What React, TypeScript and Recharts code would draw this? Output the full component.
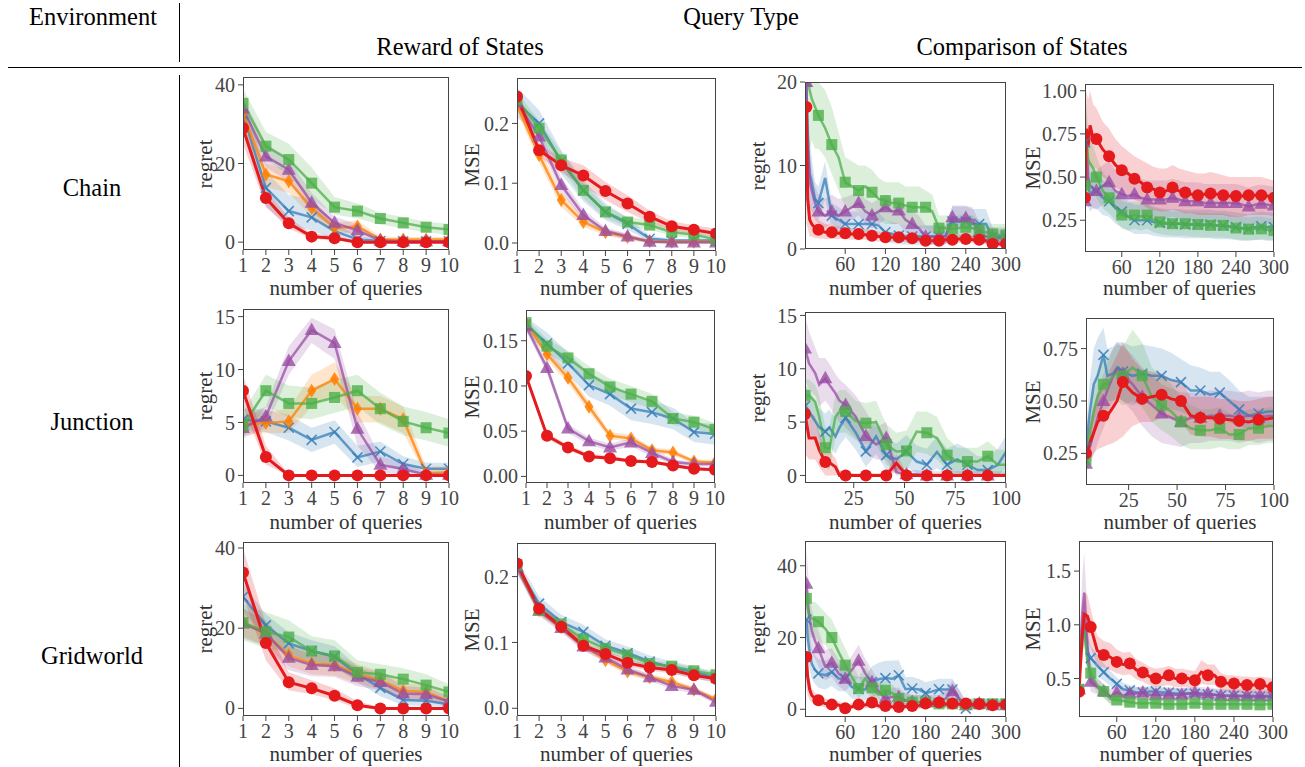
import React from "react";
import { ComposedChart, Line, Area, XAxis, YAxis } from "recharts";

// each point is [mean, low, high]
type B = [number, number, number];

const FONT = '"Liberation Serif", "Times New Roman", serif';
const INK = "#444";

const COLOR: Record<string, string> = {
  red: "#e41a1c",
  blue: "#377eb8",
  green: "#4daf4a",
  purple: "#984ea3",
  orange: "#ff7f00",
};
const DRAW_ORDER = ["blue", "orange", "purple", "green", "red"];

// x positions
const xs10 = [1, 2, 3, 4, 5, 6, 7, 8, 9, 10];
const xs300 = [2, 4, 7, 10, 15, 20, 30, 40, 50, 60, 70, 80, 90, 100, 110, 120, 130, 140, 150, 160, 170, 180, 190, 200, 210, 220, 230, 240, 250, 260, 270, 280, 290, 300];
const xsJuncReg = [1, 3, 6, 8, 11, 13, 16, 18, 21, 26, 31, 36, 41, 46, 51, 56, 61, 66, 71, 76, 81, 86, 91, 96, 100];
const xsJuncMse = [3, 5, 7, 9, 12, 14, 17, 19, 22, 27, 32, 37, 42, 47, 52, 57, 62, 67, 72, 77, 82, 87, 92, 97, 100];

const ticks10 = [1, 2, 3, 4, 5, 6, 7, 8, 9, 10];
const ticks300 = [60, 120, 180, 240, 300];
const ticks100 = [25, 50, 75, 100];

// ---------- Chain, reward of states ----------
const chainRewRegRed: B[] = [[29, 25, 33], [11.2, 9, 13.5], [4.8, 3.5, 6.2], [1.4, 0.8, 2.2], [1, 0.5, 1.6], [0, 0, 0.3], [0, 0, 0.2], [0, 0, 0.2], [0, 0, 0.2], [0, 0, 0.2]];
const chainRewRegGreen: B[] = [[35.3, 32, 39], [24.4, 21, 28], [21, 17, 25], [15, 11, 19], [8.9, 7, 11.5], [7.9, 6, 9.8], [6, 4.5, 7.5], [4.9, 3.5, 6.4], [3.8, 2.5, 5.2], [3.2, 1.8, 4.7]];
const chainRewRegPurple: B[] = [[34, 31, 37], [21.8, 19, 25], [18.4, 15.5, 21], [10, 7.5, 12.5], [4.9, 3.5, 6.5], [3, 1.5, 4.5], [0.4, 0, 1], [0.2, 0, 0.6], [0.2, 0, 0.5], [0.2, 0, 0.5]];
const chainRewRegOrange: B[] = [[32.8, 30, 36], [17.2, 14, 20], [15.5, 12.5, 18.5], [8.7, 6.5, 11], [3.6, 2.2, 5], [4, 2.5, 5.5], [0.7, 0.2, 1.5], [0.7, 0.2, 1.3], [0.7, 0.2, 1.3], [0.7, 0.2, 1.3]];
const chainRewRegBlue: B[] = [[32.5, 28, 37], [13.8, 9, 18], [7.9, 4, 12], [6.3, 3, 11], [2.8, 0.5, 5], [0.7, 0, 1.5], [0.3, 0, 0.8], [0.2, 0, 0.5], [0.2, 0, 0.5], [0.2, 0, 0.5]];

const chainRewMseRed: B[] = [[0.245, 0.235, 0.256], [0.155, 0.145, 0.165], [0.13, 0.118, 0.142], [0.113, 0.095, 0.13], [0.087, 0.072, 0.102], [0.066, 0.052, 0.08], [0.044, 0.034, 0.054], [0.028, 0.02, 0.036], [0.022, 0.015, 0.03], [0.016, 0.01, 0.024]];
const chainRewMseGreen: B[] = [[0.24, 0.228, 0.252], [0.192, 0.18, 0.205], [0.139, 0.125, 0.152], [0.088, 0.075, 0.1], [0.052, 0.042, 0.062], [0.035, 0.027, 0.044], [0.03, 0.022, 0.038], [0.018, 0.012, 0.025], [0.014, 0.008, 0.02], [0.006, 0.002, 0.011]];
const chainRewMseBlue: B[] = [[0.235, 0.21, 0.26], [0.2, 0.18, 0.222], [0.136, 0.115, 0.155], [0.088, 0.07, 0.105], [0.052, 0.038, 0.066], [0.032, 0.022, 0.042], [0.007, 0.002, 0.012], [0.004, 0.001, 0.007], [0.004, 0.001, 0.007], [0.004, 0.001, 0.007]];
const chainRewMsePurple: B[] = [[0.235, 0.225, 0.245], [0.178, 0.165, 0.19], [0.097, 0.085, 0.11], [0.047, 0.038, 0.056], [0.02, 0.014, 0.026], [0.011, 0.006, 0.016], [0.002, 0, 0.005], [0.001, 0, 0.003], [0.001, 0, 0.003], [0.001, 0, 0.003]];
const chainRewMseOrange: B[] = [[0.23, 0.22, 0.242], [0.147, 0.135, 0.16], [0.072, 0.06, 0.085], [0.035, 0.027, 0.044], [0.018, 0.012, 0.024], [0.01, 0.005, 0.015], [0.003, 0, 0.006], [0.002, 0, 0.005], [0.002, 0, 0.005], [0.002, 0, 0.005]];

// ---------- Chain, comparison of states ----------
const chainCmpRegRed: B[] = [[17, 3, 20], [6, 2.5, 9], [3.5, 1.5, 6], [3, 1.5, 5], [2.5, 1.3, 4], [2.3, 1.3, 3.5], [2, 1.2, 3], [2, 1.2, 2.9], [1.9, 1.2, 2.7], [1.9, 1.2, 2.6], [1.8, 1.1, 2.5], [1.8, 1.1, 2.5], [1.7, 1.1, 2.4], [1.6, 1, 2.3], [1.5, 0.9, 2.1], [1.4, 0.9, 2], [1.4, 0.9, 2], [1.4, 0.9, 1.9], [1.3, 0.8, 1.8], [1.3, 0.8, 1.8], [1.2, 0.8, 1.7], [1, 0.6, 1.5], [1, 0.6, 1.5], [1, 0.6, 1.5], [1.1, 0.7, 1.6], [1.1, 0.7, 1.6], [1.2, 0.7, 1.7], [1.2, 0.8, 1.7], [1.1, 0.7, 1.6], [1.1, 0.7, 1.6], [1, 0.6, 1.5], [0.6, 0.3, 1], [0.6, 0.3, 1], [0.6, 0.3, 1]];
const chainCmpRegGreen: B[] = [[22, 14, 26], [20, 13, 25], [19, 12, 24], [18, 13, 22], [17, 12, 21], [16, 12, 20], [14.5, 11, 19], [12.5, 9, 17], [11, 7, 14], [8, 5, 11], [7.5, 5, 10.5], [7, 4.5, 10], [7.5, 4.5, 10], [6.8, 4, 9.5], [6, 3.5, 8.5], [5.8, 3, 8], [5.5, 3, 8], [5.5, 3, 8], [5.2, 2.8, 7.5], [5, 2.5, 7.5], [5, 2.5, 7.5], [5, 2.5, 7], [4.5, 2, 6.5], [2.5, 1, 4], [2.5, 1, 4], [2.4, 1, 4], [2.5, 1, 4], [2.6, 1, 4.2], [2.5, 1, 4], [2.3, 0.8, 3.5], [2, 0.7, 3.2], [1.8, 0.5, 3], [1.7, 0.5, 3], [1.7, 0.5, 3]];
const chainCmpRegBlue: B[] = [[20, 12, 24], [14, 9, 19], [9, 6, 13], [8, 5, 11], [6, 4, 8], [5.5, 3.5, 7.5], [8.5, 6, 10.5], [4, 2.5, 5.5], [3.5, 2, 5], [3, 1.5, 4.5], [3, 1.5, 4.5], [3, 1.5, 4.5], [3, 1.5, 4.5], [3, 1.5, 4.5], [2.8, 1.3, 4.3], [2, 0.8, 3.5], [1.8, 0.7, 3.2], [1.6, 0.6, 3], [1.5, 0.5, 2.8], [1.5, 0.5, 2.8], [1.5, 0.5, 2.8], [1.5, 0.5, 2.8], [1.5, 0.5, 2.8], [1.5, 0.5, 2.8], [1.6, 0.6, 2.9], [3.3, 1.3, 5.1], [3.3, 1.3, 5.1], [3.3, 1.3, 5.1], [3, 1.3, 4.8], [3, 1.3, 4.8], [3, 1.3, 4.8], [1.5, 0.5, 2.6], [1.5, 0.5, 2.6], [1.5, 0.5, 2.6]];
const chainCmpRegPurple: B[] = [[20, 14, 24], [12, 8, 17], [8, 5, 11], [7, 4.5, 9.5], [5.5, 3.5, 7.5], [4.5, 3, 6.5], [4, 2.5, 6], [4.5, 3, 6.5], [4, 2.5, 6], [4.5, 3, 6.2], [5, 3.5, 6.5], [5.5, 4, 7], [4.5, 3, 6], [4, 2.5, 5.5], [4.5, 3, 6], [5, 3.5, 6.5], [4.5, 3, 6], [4.6, 3, 6], [3.5, 2, 5], [3, 1.5, 4.5], [2.5, 1.2, 4], [1.5, 0.5, 2.8], [1.5, 0.5, 2.8], [1.5, 0.5, 2.8], [1.5, 0.5, 2.8], [3.8, 2.5, 5.2], [3.5, 2.5, 5.2], [3.7, 2.5, 5.2], [3.5, 2.3, 5], [2, 1, 3.2], [1.5, 0.6, 2.6], [1.5, 0.6, 2.6], [1.3, 0.5, 2.3], [1.2, 0.4, 2.2]];

const chainCmpMseRed: B[] = [[0.38, 0.3, 0.46], [0.78, 0.55, 1.0], [0.68, 0.5, 0.95], [0.8, 0.58, 1.0], [0.72, 0.55, 0.92], [0.72, 0.55, 0.9], [0.66, 0.5, 0.82], [0.62, 0.48, 0.78], [0.57, 0.44, 0.72], [0.54, 0.42, 0.68], [0.52, 0.4, 0.65], [0.49, 0.37, 0.62], [0.47, 0.35, 0.6], [0.44, 0.32, 0.58], [0.43, 0.31, 0.56], [0.41, 0.3, 0.55], [0.42, 0.3, 0.55], [0.44, 0.31, 0.57], [0.42, 0.3, 0.55], [0.41, 0.29, 0.54], [0.4, 0.29, 0.53], [0.395, 0.28, 0.52], [0.4, 0.28, 0.52], [0.405, 0.28, 0.53], [0.4, 0.28, 0.52], [0.395, 0.28, 0.51], [0.39, 0.27, 0.5], [0.39, 0.27, 0.5], [0.39, 0.27, 0.5], [0.395, 0.28, 0.5], [0.395, 0.28, 0.5], [0.395, 0.28, 0.5], [0.39, 0.28, 0.49], [0.38, 0.27, 0.48]];
const chainCmpMseGreen: B[] = [[0.45, 0.35, 0.55], [0.78, 0.6, 0.95], [0.6, 0.45, 0.75], [0.58, 0.45, 0.72], [0.55, 0.42, 0.68], [0.5, 0.38, 0.62], [0.42, 0.32, 0.53], [0.38, 0.29, 0.48], [0.33, 0.25, 0.42], [0.28, 0.2, 0.36], [0.27, 0.19, 0.35], [0.28, 0.2, 0.36], [0.27, 0.19, 0.35], [0.28, 0.2, 0.35], [0.25, 0.18, 0.32], [0.24, 0.17, 0.31], [0.235, 0.165, 0.305], [0.23, 0.16, 0.3], [0.23, 0.16, 0.3], [0.23, 0.16, 0.3], [0.225, 0.155, 0.295], [0.225, 0.155, 0.295], [0.22, 0.15, 0.29], [0.22, 0.15, 0.29], [0.22, 0.15, 0.29], [0.22, 0.15, 0.29], [0.21, 0.145, 0.28], [0.205, 0.14, 0.275], [0.2, 0.135, 0.27], [0.198, 0.135, 0.265], [0.2, 0.135, 0.27], [0.2, 0.135, 0.27], [0.195, 0.13, 0.265], [0.19, 0.13, 0.26]];
const chainCmpMseBlue: B[] = [[0.7, 0.5, 0.95], [0.55, 0.4, 0.75], [0.45, 0.33, 0.6], [0.4, 0.3, 0.52], [0.42, 0.32, 0.53], [0.42, 0.32, 0.53], [0.38, 0.28, 0.48], [0.36, 0.27, 0.46], [0.32, 0.23, 0.42], [0.3, 0.21, 0.39], [0.27, 0.19, 0.36], [0.25, 0.17, 0.34], [0.25, 0.17, 0.34], [0.25, 0.17, 0.34], [0.24, 0.16, 0.33], [0.235, 0.155, 0.32], [0.23, 0.15, 0.315], [0.23, 0.15, 0.315], [0.23, 0.15, 0.315], [0.225, 0.145, 0.31], [0.225, 0.145, 0.31], [0.225, 0.145, 0.31], [0.225, 0.145, 0.31], [0.225, 0.145, 0.31], [0.22, 0.14, 0.305], [0.22, 0.14, 0.305], [0.215, 0.14, 0.3], [0.21, 0.135, 0.295], [0.205, 0.13, 0.29], [0.2, 0.13, 0.285], [0.21, 0.135, 0.295], [0.215, 0.14, 0.3], [0.21, 0.135, 0.295], [0.21, 0.135, 0.295]];
const chainCmpMsePurple: B[] = [[0.36, 0.3, 0.45], [0.7, 0.5, 0.9], [0.5, 0.38, 0.65], [0.45, 0.34, 0.58], [0.43, 0.32, 0.55], [0.42, 0.31, 0.54], [0.45, 0.34, 0.57], [0.47, 0.36, 0.59], [0.42, 0.31, 0.54], [0.4, 0.29, 0.52], [0.39, 0.28, 0.51], [0.4, 0.29, 0.51], [0.38, 0.27, 0.49], [0.37, 0.26, 0.48], [0.37, 0.26, 0.48], [0.37, 0.26, 0.48], [0.37, 0.26, 0.48], [0.38, 0.27, 0.49], [0.37, 0.26, 0.48], [0.36, 0.25, 0.47], [0.36, 0.25, 0.47], [0.36, 0.25, 0.47], [0.35, 0.24, 0.46], [0.35, 0.24, 0.46], [0.35, 0.24, 0.46], [0.35, 0.24, 0.46], [0.35, 0.24, 0.46], [0.35, 0.24, 0.46], [0.34, 0.23, 0.45], [0.33, 0.22, 0.44], [0.34, 0.23, 0.45], [0.345, 0.235, 0.455], [0.34, 0.23, 0.45], [0.335, 0.225, 0.445]];

// ---------- Junction, reward of states ----------
const juncRewRegRed: B[] = [[8, 6.5, 9.5], [1.73, 1, 2.8], [0, 0, 0.1], [0, 0, 0.1], [0, 0, 0.1], [0, 0, 0.1], [0, 0, 0.1], [0, 0, 0.1], [0, 0, 0.1], [0, 0, 0.1]];
const juncRewRegGreen: B[] = [[4.7, 3.5, 6], [8, 6.5, 9.5], [6.8, 5.5, 8.5], [6.8, 5.3, 8.3], [7.36, 5.9, 9], [8, 6.5, 9.5], [6.3, 4.8, 7.8], [5.1, 3.8, 6.5], [4.5, 3.3, 6], [4, 2.7, 5.3]];
const juncRewRegPurple: B[] = [[4.47, 3.5, 5.5], [5.57, 4.5, 6.5], [10.8, 9.5, 12.2], [13.74, 12.5, 14.9], [12.5, 11, 13.8], [4.4, 2.8, 6], [1, 0.3, 1.8], [0.6, 0, 1.2], [0.06, 0, 0.3], [0.06, 0, 0.3]];
const juncRewRegOrange: B[] = [[4.8, 3.8, 5.8], [4.94, 4, 6], [5.1, 4, 6.3], [8, 6.5, 9.5], [9.1, 7.7, 10.7], [6.3, 5, 7.5], [6.3, 5, 7.5], [5.3, 4, 6.5], [0.2, 0, 0.8], [0.3, 0, 0.9]];
const juncRewRegBlue: B[] = [[5.25, 4.2, 6.3], [5.1, 4.1, 6.2], [4.5, 3.3, 5.7], [3.36, 2.2, 4.5], [4.1, 3, 5.2], [1.7, 0.8, 2.8], [2.26, 1.3, 3.2], [1.07, 0.4, 1.8], [0.63, 0.1, 1.2], [0.63, 0.1, 1.2]];

const juncRewMseRed: B[] = [[0.111, 0.107, 0.115], [0.045, 0.042, 0.048], [0.032, 0.029, 0.035], [0.022, 0.02, 0.025], [0.02, 0.018, 0.023], [0.017, 0.015, 0.019], [0.016, 0.014, 0.018], [0.012, 0.01, 0.014], [0.0085, 0.007, 0.01], [0.0074, 0.006, 0.009]];
const juncRewMseGreen: B[] = [[0.17, 0.165, 0.175], [0.144, 0.136, 0.152], [0.131, 0.123, 0.139], [0.1135, 0.105, 0.122], [0.099, 0.09, 0.108], [0.091, 0.082, 0.1], [0.083, 0.075, 0.091], [0.064, 0.057, 0.071], [0.06, 0.053, 0.067], [0.052, 0.045, 0.059]];
const juncRewMseBlue: B[] = [[0.168, 0.16, 0.176], [0.147, 0.135, 0.159], [0.125, 0.113, 0.137], [0.101, 0.088, 0.114], [0.091, 0.078, 0.104], [0.075, 0.062, 0.088], [0.071, 0.058, 0.084], [0.064, 0.052, 0.076], [0.049, 0.038, 0.06], [0.047, 0.035, 0.058]];
const juncRewMsePurple: B[] = [[0.166, 0.161, 0.171], [0.12, 0.114, 0.126], [0.053, 0.048, 0.058], [0.039, 0.035, 0.043], [0.032, 0.028, 0.036], [0.0376, 0.033, 0.042], [0.026, 0.022, 0.03], [0.016, 0.013, 0.019], [0.0136, 0.011, 0.016], [0.0136, 0.011, 0.016]];
const juncRewMseOrange: B[] = [[0.17, 0.165, 0.175], [0.135, 0.129, 0.141], [0.109, 0.103, 0.115], [0.077, 0.071, 0.083], [0.045, 0.041, 0.049], [0.042, 0.038, 0.046], [0.029, 0.026, 0.032], [0.0265, 0.023, 0.03], [0.0166, 0.014, 0.019], [0.0155, 0.013, 0.018]];

// ---------- Junction, comparison of states ----------
const juncCmpRegRed: B[] = [[5.75, 2, 9], [3.5, 1.5, 6], [3.5, 1.5, 5.5], [2.4, 0.8, 4], [1.25, 0, 2.5], [1.2, 0, 2.3], [0.8, 0, 1.6], [0, 0, 0.5], [0, 0, 0.3], [0, 0, 0.2], [0, 0, 0.2], [0, 0, 0.2], [0, 0, 0.2], [1.15, 0.3, 2], [0, 0, 0.2], [0, 0, 0.2], [0, 0, 0.2], [0, 0, 0.2], [0, 0, 0.2], [0, 0, 0.2], [0, 0, 0.2], [0, 0, 0.2], [0, 0, 0.2], [0, 0, 0.2], [0, 0, 0.2]];
const juncCmpRegPurple: B[] = [[11.9, 9, 15], [10.5, 8, 13.5], [9.6, 7.5, 12], [8.5, 6.5, 11], [9.1, 7, 11], [8.5, 6.5, 10.5], [7.7, 5.5, 9.5], [7, 5, 9], [6.6, 4.5, 8.5], [5.5, 3.5, 7.5], [3.7, 2, 6], [2.9, 1.5, 4.5], [3.5, 1.5, 5], [0.3, 0, 1], [0.1, 0, 0.5], [0.1, 0, 0.5], [0, 0, 0.4], [0, 0, 0.4], [0, 0, 0.4], [0, 0, 0.4], [0, 0, 0.4], [0, 0, 0.4], [0, 0, 0.4], [0, 0, 0.4], [0, 0, 0.4]];
const juncCmpRegGreen: B[] = [[7.5, 6, 9], [7.5, 5.5, 9], [6.9, 5, 8.5], [5.5, 3.5, 7.5], [2.6, 0.8, 4.5], [2.5, 0.5, 4.5], [5.5, 3.5, 7.5], [6, 4, 8], [6, 4, 8], [5.1, 3.3, 7], [4.9, 3, 6.8], [5, 3, 7], [2.9, 1, 4.8], [2.25, 0.5, 4], [2.3, 0.5, 4.2], [4.1, 2.2, 6], [4, 2, 6], [3.5, 1.5, 5.5], [1.9, 0.5, 3.5], [1.3, 0.2, 2.6], [1.3, 0.2, 2.6], [1.3, 0.2, 2.6], [1.8, 0.5, 3.2], [1, 0, 2.4], [1, 0, 2.4]];
const juncCmpRegBlue: B[] = [[6.5, 4.5, 8.5], [6, 4, 8], [5.1, 3.3, 7], [4.5, 2.8, 6.3], [4.1, 2.5, 5.8], [4.5, 2.8, 6.2], [3.65, 2, 5.3], [4.5, 2.8, 6.2], [5.4, 3.6, 7.2], [4, 2.4, 5.6], [2.25, 0.8, 3.8], [3.65, 2, 5.3], [1.9, 0.5, 3.4], [1.5, 0.3, 3], [2.25, 0.8, 3.8], [1.3, 0.2, 2.8], [1, 0, 2.5], [2.2, 0.7, 3.7], [1, 0, 2.5], [1.5, 0.2, 3], [1, 0, 2.5], [0.5, 0, 1.8], [0.5, 0, 1.8], [1, 0, 2.5], [2.2, 0.7, 3.7]];

const juncCmpMseRed: B[] = [[0.25, 0.2, 0.3], [0.3, 0.22, 0.4], [0.35, 0.25, 0.48], [0.4, 0.27, 0.54], [0.43, 0.28, 0.6], [0.43, 0.29, 0.62], [0.47, 0.3, 0.68], [0.5, 0.31, 0.72], [0.59, 0.33, 0.78], [0.54, 0.38, 0.7], [0.51, 0.4, 0.65], [0.52, 0.4, 0.64], [0.53, 0.42, 0.63], [0.51, 0.42, 0.6], [0.5, 0.4, 0.6], [0.43, 0.34, 0.52], [0.42, 0.33, 0.52], [0.42, 0.33, 0.52], [0.415, 0.32, 0.51], [0.41, 0.32, 0.51], [0.405, 0.31, 0.5], [0.4, 0.31, 0.5], [0.41, 0.32, 0.51], [0.415, 0.32, 0.52], [0.42, 0.32, 0.52]];
const juncCmpMseBlue: B[] = [[0.28, 0.2, 0.36], [0.45, 0.3, 0.6], [0.58, 0.4, 0.75], [0.62, 0.45, 0.8], [0.72, 0.55, 0.85], [0.62, 0.5, 0.75], [0.63, 0.5, 0.76], [0.66, 0.52, 0.78], [0.64, 0.5, 0.78], [0.62, 0.48, 0.76], [0.63, 0.5, 0.77], [0.62, 0.48, 0.76], [0.62, 0.47, 0.75], [0.6, 0.46, 0.73], [0.59, 0.45, 0.7], [0.55, 0.43, 0.67], [0.55, 0.43, 0.66], [0.53, 0.42, 0.64], [0.54, 0.43, 0.64], [0.5, 0.4, 0.6], [0.46, 0.38, 0.55], [0.43, 0.36, 0.52], [0.44, 0.37, 0.52], [0.45, 0.38, 0.52], [0.45, 0.38, 0.52]];
const juncCmpMseGreen: B[] = [[0.22, 0.15, 0.3], [0.35, 0.25, 0.45], [0.45, 0.33, 0.57], [0.52, 0.4, 0.64], [0.58, 0.46, 0.7], [0.58, 0.46, 0.7], [0.62, 0.5, 0.75], [0.63, 0.5, 0.77], [0.62, 0.48, 0.76], [0.66, 0.5, 0.84], [0.62, 0.47, 0.78], [0.52, 0.4, 0.66], [0.48, 0.36, 0.62], [0.45, 0.33, 0.58], [0.4, 0.29, 0.52], [0.37, 0.27, 0.48], [0.36, 0.27, 0.46], [0.36, 0.27, 0.46], [0.37, 0.28, 0.47], [0.34, 0.27, 0.44], [0.34, 0.27, 0.44], [0.37, 0.29, 0.46], [0.37, 0.29, 0.46], [0.38, 0.3, 0.47], [0.38, 0.3, 0.47]];
const juncCmpMsePurple: B[] = [[0.2, 0.16, 0.26], [0.28, 0.2, 0.38], [0.35, 0.24, 0.47], [0.42, 0.3, 0.55], [0.5, 0.37, 0.63], [0.55, 0.42, 0.68], [0.62, 0.48, 0.75], [0.65, 0.52, 0.78], [0.63, 0.5, 0.76], [0.58, 0.45, 0.72], [0.52, 0.38, 0.66], [0.48, 0.33, 0.62], [0.44, 0.3, 0.58], [0.42, 0.29, 0.56], [0.4, 0.28, 0.54], [0.42, 0.3, 0.54], [0.42, 0.3, 0.54], [0.43, 0.31, 0.55], [0.43, 0.31, 0.55], [0.43, 0.31, 0.55], [0.42, 0.3, 0.54], [0.43, 0.31, 0.55], [0.42, 0.3, 0.54], [0.43, 0.31, 0.55], [0.43, 0.31, 0.55]];

// ---------- Gridworld, reward of states ----------
const gridRewRegRed: B[] = [[33.9, 28, 40], [16.3, 12, 21], [6.5, 4.5, 9], [5, 3.5, 7], [3.15, 2, 5], [0.8, 0, 1.8], [0, 0, 0.3], [0, 0, 0.2], [0, 0, 0.2], [0, 0, 0.2]];
const gridRewRegGreen: B[] = [[21.4, 17, 26], [19.1, 15, 24], [17.8, 14, 22], [14.3, 11, 18], [13.1, 10, 17], [9, 7, 12], [8.5, 6.5, 11], [7.3, 5, 10], [5.8, 3.8, 8.5], [4.1, 2.5, 6]];
const gridRewRegBlue: B[] = [[27.8, 24, 31], [20.7, 18, 23.5], [16.2, 13.5, 19], [14.3, 11.8, 17], [12.9, 10.5, 15.5], [8.5, 6.5, 10.5], [5.1, 3, 7.2], [2.1, 0.8, 3.5], [1.9, 0.6, 3.2], [1, 0.2, 2]];
const gridRewRegPurple: B[] = [[21.2, 17.5, 25], [18.7, 15.5, 22], [12.6, 9.5, 15.5], [10.8, 8, 13.5], [10.5, 7.8, 13.2], [7.9, 5.5, 10.3], [6.6, 4.5, 9], [3.7, 2, 5.5], [3.5, 1.8, 5.2], [1.7, 0.5, 3]];
const gridRewRegOrange: B[] = [[21.5, 18, 25], [18.5, 15.5, 21.5], [13.3, 10.5, 16], [11.2, 8.5, 14], [10.8, 8.2, 13.5], [8.6, 6.2, 11], [7, 4.8, 9.2], [4.4, 2.5, 6.3], [4, 2.2, 5.8], [1.8, 0.6, 3.2]];

const gridRewMseRed: B[] = [[0.22, 0.213, 0.227], [0.151, 0.145, 0.157], [0.124, 0.118, 0.13], [0.095, 0.089, 0.101], [0.0825, 0.077, 0.088], [0.069, 0.064, 0.074], [0.062, 0.057, 0.067], [0.058, 0.053, 0.063], [0.05, 0.045, 0.055], [0.045, 0.04, 0.05]];
const gridRewMseGreen: B[] = [[0.218, 0.21, 0.226], [0.149, 0.142, 0.156], [0.128, 0.121, 0.135], [0.105, 0.098, 0.112], [0.091, 0.085, 0.097], [0.081, 0.075, 0.087], [0.068, 0.063, 0.073], [0.064, 0.059, 0.069], [0.057, 0.052, 0.062], [0.051, 0.046, 0.056]];
const gridRewMseBlue: B[] = [[0.216, 0.205, 0.227], [0.159, 0.148, 0.17], [0.131, 0.12, 0.142], [0.116, 0.105, 0.127], [0.095, 0.085, 0.105], [0.084, 0.074, 0.094], [0.071, 0.062, 0.08], [0.062, 0.053, 0.071], [0.055, 0.046, 0.064], [0.046, 0.038, 0.054]];
const gridRewMsePurple: B[] = [[0.214, 0.205, 0.223], [0.148, 0.14, 0.156], [0.122, 0.115, 0.129], [0.094, 0.087, 0.101], [0.077, 0.071, 0.083], [0.059, 0.053, 0.065], [0.047, 0.042, 0.052], [0.034, 0.029, 0.039], [0.028, 0.023, 0.033], [0.01, 0.006, 0.014]];
const gridRewMseOrange: B[] = [[0.215, 0.207, 0.223], [0.149, 0.142, 0.156], [0.123, 0.117, 0.129], [0.096, 0.09, 0.102], [0.073, 0.068, 0.078], [0.056, 0.051, 0.061], [0.047, 0.042, 0.052], [0.04, 0.035, 0.045], [0.028, 0.024, 0.032], [0.014, 0.01, 0.018]];

// ---------- Gridworld, comparison of states ----------
const gridCmpRegRed: B[] = [[14.6, 6, 17], [9, 4, 13], [5.5, 2.5, 8.5], [3.9, 2, 6], [3, 1.5, 4.5], [2.5, 1, 4], [1.6, 0.5, 3], [1.3, 0.3, 2.3], [1.2, 0.3, 2.2], [0.3, 0, 1.3], [0.7, 0, 1.7], [1.3, 0.3, 2.3], [1.2, 0.2, 2.2], [1.9, 0.9, 2.9], [0.9, 0, 1.9], [0.9, 0, 1.9], [0.7, 0, 1.7], [0.65, 0, 1.6], [0.8, 0, 1.8], [0.9, 0, 1.9], [1, 0, 2], [1.6, 0.6, 2.6], [1.4, 0.4, 2.4], [1.9, 0.9, 2.9], [1.4, 0.4, 2.4], [1.6, 0.6, 2.6], [1.4, 0.4, 2.4], [1.6, 0.6, 2.6], [1.3, 0.3, 2.3], [1.5, 0.5, 2.5], [1.2, 0.2, 2.2], [1.1, 0.1, 2.1], [1.3, 0.3, 2.3], [1.3, 0.3, 2.3]];
const gridCmpRegGreen: B[] = [[30.9, 24, 37], [28, 22, 34], [26, 20, 31], [25.3, 20, 30], [25, 20, 30], [24.4, 19, 29], [22.5, 18, 27], [20, 15, 25], [16, 11, 21], [12.3, 8, 17], [9, 5.5, 13], [5.8, 3, 9], [8.6, 5, 12], [6, 3, 9], [4.1, 2, 7], [5.3, 2.5, 8], [4.5, 2, 7], [3, 1, 5], [2.5, 0.8, 4.5], [2, 0.5, 4], [2, 0.5, 4], [2, 0.5, 4], [1.8, 0.4, 3.5], [1.5, 0.2, 3], [1.5, 0.2, 3], [1.5, 0.2, 3], [1.5, 0.2, 3], [1.3, 0.2, 3], [1.5, 0.2, 3], [1.5, 0.2, 3], [1.2, 0.2, 3], [1.5, 0.2, 3], [1.5, 0.2, 3], [1.5, 0.2, 3]];
const gridCmpRegBlue: B[] = [[25, 18, 32], [20, 14, 26], [16, 11, 21], [12.7, 8.5, 17], [11, 7, 15], [10, 6, 14], [9.5, 5.5, 13.5], [10.4, 6.5, 14.5], [8.6, 5, 12.5], [8.5, 5, 12], [6.2, 3, 9.5], [5.6, 2.5, 9], [5.5, 2.5, 9], [7.6, 3.5, 12], [8.4, 4, 13], [8.7, 4, 13.5], [8.5, 4, 13.5], [9.5, 5, 13.7], [5.6, 2.5, 9], [5.8, 2.5, 9], [5.5, 2.5, 8.5], [4.5, 2, 7.5], [5, 2, 8], [5.6, 2.5, 8.5], [5.5, 2.5, 8.5], [5.5, 2.5, 8.5], [3, 0.5, 5.5], [0.2, 0, 2], [1, 0, 2.5], [1.5, 0.3, 3], [1.5, 0.3, 3], [1.5, 0.3, 3], [1.5, 0.3, 3], [1.5, 0.3, 3]];
const gridCmpRegPurple: B[] = [[35, 25, 45], [30, 22, 40], [25, 18, 32], [22, 16, 28], [19, 14, 24], [17, 12, 22], [12, 8, 16.5], [13, 9, 17], [10, 6.5, 14], [8.5, 5, 12], [11, 7, 15], [13.5, 9, 18], [10, 6, 14], [7.5, 4, 11], [5, 2.5, 8], [3, 1, 5.5], [3.5, 1.2, 6], [3.4, 1.2, 6], [2.5, 0.8, 4.5], [2, 0.5, 4], [2, 0.5, 4], [2, 0.5, 4], [2, 0.5, 4], [2, 0.5, 4], [3, 1, 5.5], [5, 2, 8], [3, 1, 5.5], [1.1, 0, 2.5], [1.5, 0.2, 3], [1.6, 0.3, 3], [1.3, 0.2, 2.8], [1.1, 0, 2.5], [1.1, 0, 2.5], [1.1, 0, 2.5]];

const gridCmpMseRed: B[] = [[0.376, 0.3, 0.45], [0.6, 0.45, 0.8], [0.9, 0.7, 1.15], [1.1, 0.88, 1.3], [1.08, 0.85, 1.28], [0.98, 0.78, 1.15], [0.76, 0.62, 0.9], [0.72, 0.6, 0.85], [0.7, 0.58, 0.83], [0.655, 0.55, 0.77], [0.63, 0.53, 0.74], [0.64, 0.54, 0.75], [0.58, 0.49, 0.68], [0.556, 0.47, 0.65], [0.52, 0.44, 0.61], [0.5, 0.42, 0.59], [0.51, 0.43, 0.6], [0.53, 0.44, 0.62], [0.5, 0.42, 0.59], [0.5, 0.42, 0.59], [0.5, 0.42, 0.58], [0.485, 0.41, 0.57], [0.56, 0.45, 0.67], [0.53, 0.44, 0.63], [0.53, 0.44, 0.63], [0.47, 0.39, 0.55], [0.455, 0.38, 0.53], [0.453, 0.38, 0.53], [0.445, 0.37, 0.52], [0.44, 0.36, 0.52], [0.44, 0.36, 0.51], [0.45, 0.37, 0.52], [0.43, 0.36, 0.51], [0.42, 0.35, 0.5]];
const gridCmpMseBlue: B[] = [[0.4, 0.3, 0.5], [0.7, 0.5, 0.9], [0.9, 0.7, 1.1], [1.03, 0.85, 1.2], [0.75, 0.6, 0.9], [0.69, 0.57, 0.8], [0.62, 0.52, 0.72], [0.56, 0.48, 0.64], [0.5, 0.43, 0.57], [0.45, 0.39, 0.51], [0.4, 0.35, 0.46], [0.39, 0.34, 0.44], [0.37, 0.32, 0.42], [0.37, 0.32, 0.42], [0.38, 0.33, 0.43], [0.38, 0.33, 0.43], [0.37, 0.32, 0.42], [0.37, 0.32, 0.42], [0.36, 0.31, 0.41], [0.36, 0.31, 0.41], [0.36, 0.31, 0.41], [0.36, 0.31, 0.41], [0.35, 0.3, 0.4], [0.35, 0.3, 0.4], [0.35, 0.3, 0.4], [0.34, 0.29, 0.39], [0.34, 0.29, 0.39], [0.34, 0.29, 0.39], [0.335, 0.29, 0.38], [0.335, 0.29, 0.38], [0.33, 0.28, 0.38], [0.33, 0.28, 0.38], [0.33, 0.28, 0.38], [0.33, 0.28, 0.38]];
const gridCmpMsePurple: B[] = [[0.4, 0.3, 0.5], [0.8, 0.55, 1.05], [1.1, 0.75, 1.45], [1.3, 0.9, 1.68], [0.8, 0.55, 1.1], [0.47, 0.38, 0.58], [0.42, 0.35, 0.5], [0.38, 0.32, 0.45], [0.33, 0.27, 0.4], [0.37, 0.31, 0.43], [0.34, 0.28, 0.4], [0.36, 0.3, 0.42], [0.36, 0.3, 0.42], [0.37, 0.31, 0.43], [0.35, 0.29, 0.41], [0.35, 0.29, 0.41], [0.35, 0.29, 0.41], [0.35, 0.29, 0.41], [0.35, 0.29, 0.41], [0.35, 0.29, 0.41], [0.36, 0.3, 0.42], [0.37, 0.31, 0.43], [0.36, 0.3, 0.42], [0.36, 0.3, 0.42], [0.35, 0.29, 0.41], [0.34, 0.28, 0.4], [0.34, 0.28, 0.4], [0.34, 0.28, 0.4], [0.34, 0.28, 0.4], [0.34, 0.28, 0.4], [0.34, 0.28, 0.4], [0.34, 0.28, 0.4], [0.34, 0.28, 0.4], [0.34, 0.28, 0.4]];
const gridCmpMseGreen: B[] = [[0.4, 0.32, 0.5], [0.75, 0.6, 0.9], [0.9, 0.75, 1.05], [0.95, 0.8, 1.1], [0.65, 0.52, 0.78], [0.55, 0.45, 0.65], [0.44, 0.37, 0.52], [0.38, 0.32, 0.44], [0.31, 0.26, 0.36], [0.3, 0.26, 0.34], [0.29, 0.25, 0.33], [0.28, 0.24, 0.32], [0.27, 0.23, 0.31], [0.27, 0.23, 0.31], [0.27, 0.23, 0.31], [0.27, 0.23, 0.31], [0.26, 0.22, 0.3], [0.26, 0.22, 0.3], [0.26, 0.22, 0.3], [0.26, 0.22, 0.3], [0.265, 0.225, 0.305], [0.27, 0.23, 0.31], [0.265, 0.225, 0.305], [0.26, 0.22, 0.3], [0.26, 0.22, 0.3], [0.26, 0.22, 0.3], [0.26, 0.22, 0.3], [0.26, 0.22, 0.3], [0.26, 0.22, 0.3], [0.26, 0.22, 0.3], [0.26, 0.22, 0.3], [0.255, 0.215, 0.295], [0.26, 0.22, 0.3], [0.26, 0.22, 0.3]];

// ---------- layout ----------
const markAll = () => true;
const markEvery20 = (x: number, i: number) => i === 0 || x % 20 === 0;
const markFrom1 = (x: number) => (x - 1) % 10 === 0;
const markFrom2 = (x: number, i: number) => i === 0 || (x - 2) % 10 === 0;

const ROW_XLABEL = [289, 523, 755];
const COL_YLABEL = [205, 472, 758, 1033];

type S = { key: string; data: B[] };
type PanelDef = {
  box: [number, number, number, number];
  row: number;
  col: number;
  xs: number[];
  xDomain: [number, number];
  xTicks: number[];
  yDomain: [number, number];
  yTicks: number[];
  yDigits: number;
  yLabel: string;
  series: S[];
  marked: (x: number, i: number) => boolean;
};

const panels: PanelDef[] = [
  {
    box: [243, 77, 449, 250], row: 0, col: 0, xs: xs10, xDomain: [1, 10], xTicks: ticks10,
    yDomain: [-2, 42], yTicks: [0, 20, 40], yDigits: 0, yLabel: "regret", marked: markAll,
    series: [{ key: "red", data: chainRewRegRed }, { key: "green", data: chainRewRegGreen }, { key: "purple", data: chainRewRegPurple }, { key: "orange", data: chainRewRegOrange }, { key: "blue", data: chainRewRegBlue }],
  },
  {
    box: [517, 78, 716, 251], row: 0, col: 1, xs: xs10, xDomain: [1, 10], xTicks: ticks10,
    yDomain: [-0.0134, 0.276], yTicks: [0, 0.1, 0.2], yDigits: 1, yLabel: "MSE", marked: markAll,
    series: [{ key: "red", data: chainRewMseRed }, { key: "green", data: chainRewMseGreen }, { key: "purple", data: chainRewMsePurple }, { key: "orange", data: chainRewMseOrange }, { key: "blue", data: chainRewMseBlue }],
  },
  {
    box: [805, 82, 1006, 249], row: 0, col: 2, xs: xs300, xDomain: [0, 300], xTicks: ticks300,
    yDomain: [0, 20], yTicks: [0, 10, 20], yDigits: 0, yLabel: "regret", marked: markEvery20,
    series: [{ key: "red", data: chainCmpRegRed }, { key: "green", data: chainCmpRegGreen }, { key: "purple", data: chainCmpRegPurple }, { key: "blue", data: chainCmpRegBlue }],
  },
  {
    box: [1085, 84, 1274, 252], row: 0, col: 3, xs: xs300, xDomain: [2, 300], xTicks: ticks300,
    yDomain: [0.066, 1.039], yTicks: [0.25, 0.5, 0.75, 1.0], yDigits: 2, yLabel: "MSE", marked: markEvery20,
    series: [{ key: "red", data: chainCmpMseRed }, { key: "green", data: chainCmpMseGreen }, { key: "purple", data: chainCmpMsePurple }, { key: "blue", data: chainCmpMseBlue }],
  },
  {
    box: [243, 309, 449, 483], row: 1, col: 0, xs: xs10, xDomain: [1, 10], xTicks: ticks10,
    yDomain: [-0.72, 15.72], yTicks: [0, 5, 10, 15], yDigits: 0, yLabel: "regret", marked: markAll,
    series: [{ key: "red", data: juncRewRegRed }, { key: "green", data: juncRewRegGreen }, { key: "purple", data: juncRewRegPurple }, { key: "orange", data: juncRewRegOrange }, { key: "blue", data: juncRewRegBlue }],
  },
  {
    box: [526, 310, 715, 483], row: 1, col: 1, xs: xs10, xDomain: [1, 10], xTicks: ticks10,
    yDomain: [-0.0073, 0.184], yTicks: [0, 0.05, 0.1, 0.15], yDigits: 2, yLabel: "MSE", marked: markAll,
    series: [{ key: "red", data: juncRewMseRed }, { key: "green", data: juncRewMseGreen }, { key: "purple", data: juncRewMsePurple }, { key: "orange", data: juncRewMseOrange }, { key: "blue", data: juncRewMseBlue }],
  },
  {
    box: [805, 312, 1006, 483], row: 1, col: 2, xs: xsJuncReg, xDomain: [1, 100], xTicks: ticks100,
    yDomain: [-0.71, 15.32], yTicks: [0, 5, 10, 15], yDigits: 0, yLabel: "regret", marked: markFrom1,
    series: [{ key: "red", data: juncCmpRegRed }, { key: "green", data: juncCmpRegGreen }, { key: "purple", data: juncCmpRegPurple }, { key: "blue", data: juncCmpRegBlue }],
  },
  {
    box: [1086, 318, 1274, 485], row: 1, col: 3, xs: xsJuncMse, xDomain: [3, 100], xTicks: ticks100,
    yDomain: [0.099, 0.896], yTicks: [0.25, 0.5, 0.75], yDigits: 2, yLabel: "MSE", marked: markFrom2,
    series: [{ key: "red", data: juncCmpMseRed }, { key: "green", data: juncCmpMseGreen }, { key: "purple", data: juncCmpMsePurple }, { key: "blue", data: juncCmpMseBlue }],
  },
  {
    box: [243, 542, 449, 716], row: 2, col: 0, xs: xs10, xDomain: [1, 10], xTicks: ticks10,
    yDomain: [-1.9, 41.5], yTicks: [0, 20, 40], yDigits: 0, yLabel: "regret", marked: markAll,
    series: [{ key: "red", data: gridRewRegRed }, { key: "green", data: gridRewRegGreen }, { key: "purple", data: gridRewRegPurple }, { key: "orange", data: gridRewRegOrange }, { key: "blue", data: gridRewRegBlue }],
  },
  {
    box: [517, 543, 716, 716], row: 2, col: 1, xs: xs10, xDomain: [1, 10], xTicks: ticks10,
    yDomain: [-0.0117, 0.251], yTicks: [0, 0.1, 0.2], yDigits: 1, yLabel: "MSE", marked: markAll,
    series: [{ key: "red", data: gridRewMseRed }, { key: "green", data: gridRewMseGreen }, { key: "purple", data: gridRewMsePurple }, { key: "orange", data: gridRewMseOrange }, { key: "blue", data: gridRewMseBlue }],
  },
  {
    box: [805, 541, 1006, 717], row: 2, col: 2, xs: xs300, xDomain: [0, 300], xTicks: ticks300,
    yDomain: [-2.15, 46.9], yTicks: [0, 20, 40], yDigits: 0, yLabel: "regret", marked: markEvery20,
    series: [{ key: "red", data: gridCmpRegRed }, { key: "green", data: gridCmpRegGreen }, { key: "purple", data: gridCmpRegPurple }, { key: "blue", data: gridCmpRegBlue }],
  },
  {
    box: [1079, 541, 1273, 717], row: 2, col: 3, xs: xs300, xDomain: [2, 300], xTicks: ticks300,
    yDomain: [0.142, 1.78], yTicks: [0.5, 1.0, 1.5], yDigits: 1, yLabel: "MSE", marked: markEvery20,
    series: [{ key: "red", data: gridCmpMseRed }, { key: "green", data: gridCmpMseGreen }, { key: "purple", data: gridCmpMsePurple }, { key: "blue", data: gridCmpMseBlue }],
  },
];

function markerFor(key: string, marked: (x: number, i: number) => boolean) {
  const c = COLOR[key];
  return (p: any) => {
    const { cx, cy, index, payload } = p;
    const k = `${key}-${index}`;
    if (cx == null || cy == null || !marked(payload.x, index)) return <g key={k} />;
    if (key === "red") return <circle key={k} cx={cx} cy={cy} r={6} fill={c} />;
    if (key === "green")
      return <rect key={k} x={cx - 5.5} y={cy - 5.5} width={11} height={11} fill={c} fillOpacity={0.8} />;
    if (key === "purple")
      return <polygon key={k} points={`${cx},${cy - 7.5} ${cx + 7},${cy + 5} ${cx - 7},${cy + 5}`} fill={c} fillOpacity={0.8} />;
    if (key === "orange")
      return <polygon key={k} points={`${cx},${cy - 7} ${cx + 4.5},${cy} ${cx},${cy + 7} ${cx - 4.5},${cy}`} fill={c} fillOpacity={0.85} />;
    return (
      <path key={k} d={`M${cx - 5},${cy - 5}L${cx + 5},${cy + 5}M${cx - 5},${cy + 5}L${cx + 5},${cy - 5}`}
        stroke={c} strokeWidth={1.6} strokeOpacity={0.85} fill="none" />
    );
  };
}

const tickStyle = { fill: INK, fontSize: 20, fontFamily: FONT };

function Panel({ p }: { p: PanelDef }) {
  const [L, T, R, Bm] = p.box;
  const ML = 60, MT = 14, MR = 22, MB = 36;
  const rows = p.xs.map((x, i) => {
    const r: any = { x };
    p.series.forEach((s) => {
      r[s.key] = s.data[i][0];
      r[s.key + "Band"] = [s.data[i][1], s.data[i][2]];
    });
    return r;
  });
  const order = DRAW_ORDER.filter((k) => p.series.some((s) => s.key === k));

  return (
    <>
      <div style={{ position: "absolute", left: L - ML, top: T - MT }}>
        <ComposedChart width={R - L + ML + MR} height={Bm - T + MT + MB} data={rows}
          margin={{ top: MT, right: MR, left: 0, bottom: 0 }}>
          <XAxis type="number" dataKey="x" domain={p.xDomain} ticks={p.xTicks} allowDataOverflow interval={0}
            height={MB} axisLine={false} tickLine={{ stroke: INK }} tickSize={5} tickMargin={3} tick={tickStyle} />
          <YAxis type="number" domain={p.yDomain} ticks={p.yTicks} allowDataOverflow interval={0}
            width={ML} axisLine={false} tickLine={{ stroke: INK }} tickSize={5} tickMargin={3} tick={tickStyle}
            tickFormatter={(v: number) => v.toFixed(p.yDigits)} />
          {order.map((k) => (
            <Area key={k + "Band"} dataKey={k + "Band"} type="linear" stroke="none" fill={COLOR[k]}
              fillOpacity={0.2} dot={false} activeDot={false} isAnimationActive={false} />
          ))}
          {order.map((k) => (
            <Line key={k} dataKey={k} type="linear" stroke={COLOR[k]} strokeWidth={k === "red" ? 3 : 2.5}
              strokeOpacity={k === "red" ? 1 : 0.75} dot={markerFor(k, p.marked)} activeDot={false}
              isAnimationActive={false} />
          ))}
        </ComposedChart>
      </div>
      <div style={{
        position: "absolute", left: L, top: T, width: R - L, height: Bm - T,
        border: `1px solid ${INK}`, boxSizing: "border-box", pointerEvents: "none",
      }} />
      <div style={{
        position: "absolute", left: COL_YLABEL[p.col], top: (T + Bm) / 2, fontFamily: FONT, fontSize: 21,
        color: "#333", lineHeight: 1, whiteSpace: "nowrap", transform: "translate(-50%, -50%) rotate(-90deg)",
      }}>{p.yLabel}</div>
      <div style={{
        position: "absolute", left: (L + R) / 2, top: ROW_XLABEL[p.row], fontFamily: FONT, fontSize: 21,
        color: "#333", lineHeight: 0.85, whiteSpace: "nowrap", transform: "translate(-50%, -50%)",
      }}>number of queries</div>
    </>
  );
}

function Label({ x, y, text }: { x: number; y: number; text: string }) {
  return (
    <div style={{
      position: "absolute", left: x, top: y, fontFamily: FONT, fontSize: 24.5, color: "#000",
      lineHeight: 1, whiteSpace: "nowrap", transform: "translate(-50%, -50%)",
    }}>{text}</div>
  );
}

export default function App() {
  return (
    <div style={{ position: "absolute", left: 0, top: 0, width: 1305, height: 767, background: "#fff", overflow: "hidden" }}>
      <Label x={93} y={17} text="Environment" />
      <Label x={741} y={17} text="Query Type" />
      <Label x={460} y={47} text="Reward of States" />
      <Label x={1022} y={47} text="Comparison of States" />
      <Label x={92} y={188} text="Chain" />
      <Label x={92} y={422} text="Junction" />
      <Label x={92} y={656} text="Gridworld" />
      <div style={{ position: "absolute", left: 8, top: 66.5, width: 1294, height: 1.5, background: "#000" }} />
      <div style={{ position: "absolute", left: 178.5, top: 3, width: 1, height: 59, background: "#000" }} />
      <div style={{ position: "absolute", left: 178.5, top: 75, width: 1, height: 692, background: "#000" }} />
      {panels.map((p, i) => <Panel key={i} p={p} />)}
    </div>
  );
}
